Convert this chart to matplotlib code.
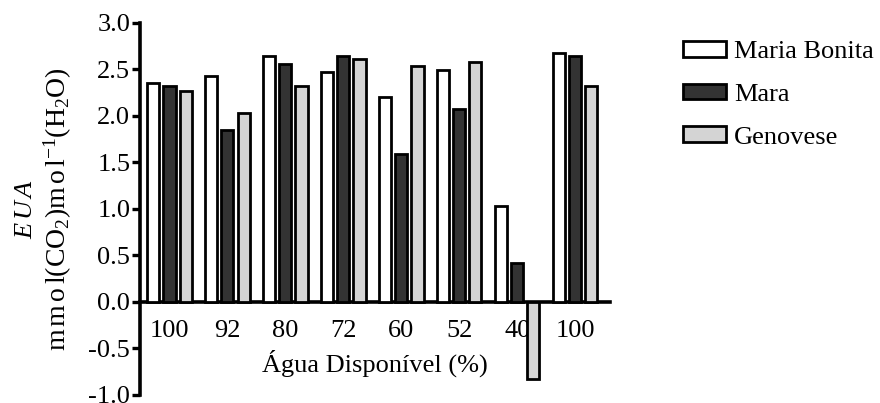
import numpy as np
import matplotlib
matplotlib.use("Agg")
import matplotlib.pyplot as plt

plt.rcParams['font.family'] = ['Liberation Serif', 'DejaVu Serif']
plt.rcParams['mathtext.fontset'] = 'custom'
plt.rcParams['mathtext.rm'] = 'Liberation Serif'
plt.rcParams['mathtext.it'] = 'Liberation Serif:italic'

# water availability groups (x tick labels)
agua = ['100', '92', '80', '72', '60', '52', '40', '100']

# EUA values per cultivar
maria_bonita = [2.35, 2.43, 2.65, 2.47, 2.20, 2.49, 1.03, 2.68]
mara = [2.32, 1.85, 2.56, 2.64, 1.59, 2.08, 0.42, 2.65]
genovese = [2.27, 2.03, 2.32, 2.61, 2.54, 2.58, -0.83, 2.32]

series = [('Maria Bonita', maria_bonita, 'white'),
          ('Mara', mara, '#333333'),
          ('Genovese', genovese, '#d4d4d4')]

fig = plt.figure(figsize=(8.8, 4.03), dpi=100)
ax = fig.add_axes([0.159, 0.02, 0.534, 0.923])

# spine position first (it resets the ticks)
ax.spines['top'].set_visible(False)
ax.spines['right'].set_visible(False)
ax.spines['bottom'].set_position(('data', 0))
ax.spines['left'].set_linewidth(2.6)
ax.spines['bottom'].set_linewidth(2.6)

x = np.arange(len(agua))
w = 0.21
step = 0.28
for i, (name, vals, col) in enumerate(series):
    ax.bar(x + (i - 1) * step, vals, w, color=col, edgecolor='black',
           linewidth=2, label=name, zorder=3)

ax.set_xlim(-0.51, 7.6)
ax.set_ylim(-1.0, 3.0)
yt = np.arange(-1.0, 3.01, 0.5)
ax.set_yticks(yt)
ax.set_yticklabels(['%.1f' % v for v in yt], fontsize=19)
ax.set_xticks(x)
ax.set_xticklabels(agua, fontsize=19)
ax.tick_params(axis='y', direction='out', length=6, width=2.4, pad=1)
ax.tick_params(axis='x', length=0, pad=13)

fig.text(0.426, 0.099, 'Água Disponível (%)', ha='center', va='center', fontsize=19)
fig.text(0.030, 0.482, r'$E\,U\,A$', rotation=90, ha='center', va='center', fontsize=19)
fig.text(0.066, 0.482, r'$\mathrm{m\,m\,o\,l(CO_2)m\,o\,l^{-1}(H_2O)}$',
         rotation=90, ha='center', va='center', fontsize=20)

ax.legend(loc='upper left', bbox_to_anchor=(1.133, 0.98), frameon=False,
          fontsize=19, handlelength=1.63, handleheight=0.53,
          handletextpad=0.3, labelspacing=0.78, borderaxespad=0.0)

fig.savefig('out.png', dpi=100)
